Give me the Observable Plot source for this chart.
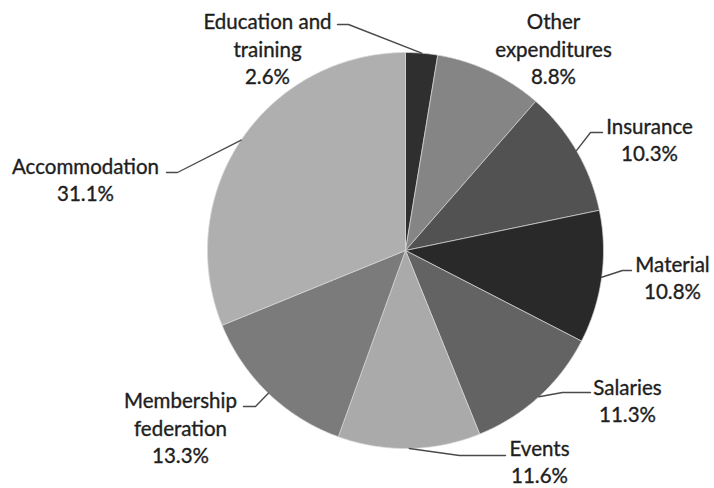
<!DOCTYPE html>
<html><head><meta charset="utf-8">
<script src="https://cdn.jsdelivr.net/npm/d3@7"></script>
<script src="https://cdn.jsdelivr.net/npm/@observablehq/plot@0.6"></script>
<style>html,body{margin:0;padding:0;background:#fff}</style>
</head><body><div id="chart"></div>
<script>
// ---- data ----
const categories = ["Education and training", "Other expenditures", "Insurance", "Material", "Salaries", "Events", "Membership federation", "Accommodation"];
const shares = [2.6, 8.8, 10.3, 10.8, 11.3, 11.6, 13.3, 31.1];
const labelLines = [["Education and", "training"], ["Other", "expenditures"], ["Insurance"], ["Material"], ["Salaries"], ["Events"], ["Membership", "federation"], ["Accommodation"]];
const greys = ["#2f2f2f", "#858585", "#525252", "#292929", "#636363", "#aaaaaa", "#7b7b7b", "#afafaf"];

// ---- layout (pixels) ----
const W = 714, H = 488, cx = 405, cy = 250, R = 198;
const labelPos = [
  {x: 267, y: 47.5, hook: [[348, 24], [337, 24]]},
  {x: 553, y: 47.5, hook: null},
  {x: 649, y: 138.5, hook: [[590, 132], [602, 132]]},
  {x: 672, y: 276.5, hook: [[622, 270], [631, 270]]},
  {x: 627, y: 399, hook: [[562, 392], [590, 392]]},
  {x: 539, y: 460, hook: [[459, 455], [505, 455]]},
  {x: 180, y: 426.5, hook: [[255, 406], [243, 406]]},
  {x: 85, y: 178.5, hook: [[177, 172], [166, 172]]}
];

const arcs = d3.pie().sort(null).value(d => d)(shares);
const pt = (a, r = R) => ({x: cx + r * Math.sin(a), y: cy - r * Math.cos(a)});

const slices = arcs.map((a, i) => {
  const n = Math.max(4, Math.ceil((a.endAngle - a.startAngle) / 0.01));
  const pts = [{x: cx, y: cy}];
  for (let k = 0; k <= n; k++) pts.push(pt(a.startAngle + (a.endAngle - a.startAngle) * k / n));
  pts.push({x: cx, y: cy});
  return pts.map(p => ({...p, name: categories[i], color: greys[i]}));
});

const leaders = arcs.flatMap((a, i) => {
  const L = labelPos[i];
  if (!L.hook) return [];
  const m = pt((a.startAngle + a.endAngle) / 2);
  return [m, {x: L.hook[0][0], y: L.hook[0][1]}, {x: L.hook[1][0], y: L.hook[1][1]}].map(p => ({...p, name: categories[i]}));
});

const labels = categories.map((c, i) => ({
  x: labelPos[i].x, y: labelPos[i].y,
  text: [...labelLines[i], shares[i].toFixed(1) + "%"].join("\n")
}));

const chart = Plot.plot({
  width: W, height: H, margin: 0,
  x: {domain: [0, W], range: [0, W], axis: null},
  y: {domain: [0, H], range: [0, H], axis: null},
  marks: [
    ...slices.map(s => Plot.line(s, {x: "x", y: "y", fill: s[0].color, stroke: "#d8d8d8", strokeWidth: 0.7, curve: "linear-closed"})),
    Plot.line(leaders, {x: "x", y: "y", z: "name", stroke: "#4a4a4a", strokeWidth: 1.4}),
    Plot.text(labels, {x: "x", y: "y", text: "text", fontSize: 20.5, fontFamily: "Lato, 'Open Sans', sans-serif", fill: "#1e1e1e", stroke: "#1e1e1e", strokeWidth: 0.35, lineHeight: 1.33, textAnchor: "middle"})
  ]
});
document.getElementById("chart").appendChild(chart);
</script>
</body></html>
